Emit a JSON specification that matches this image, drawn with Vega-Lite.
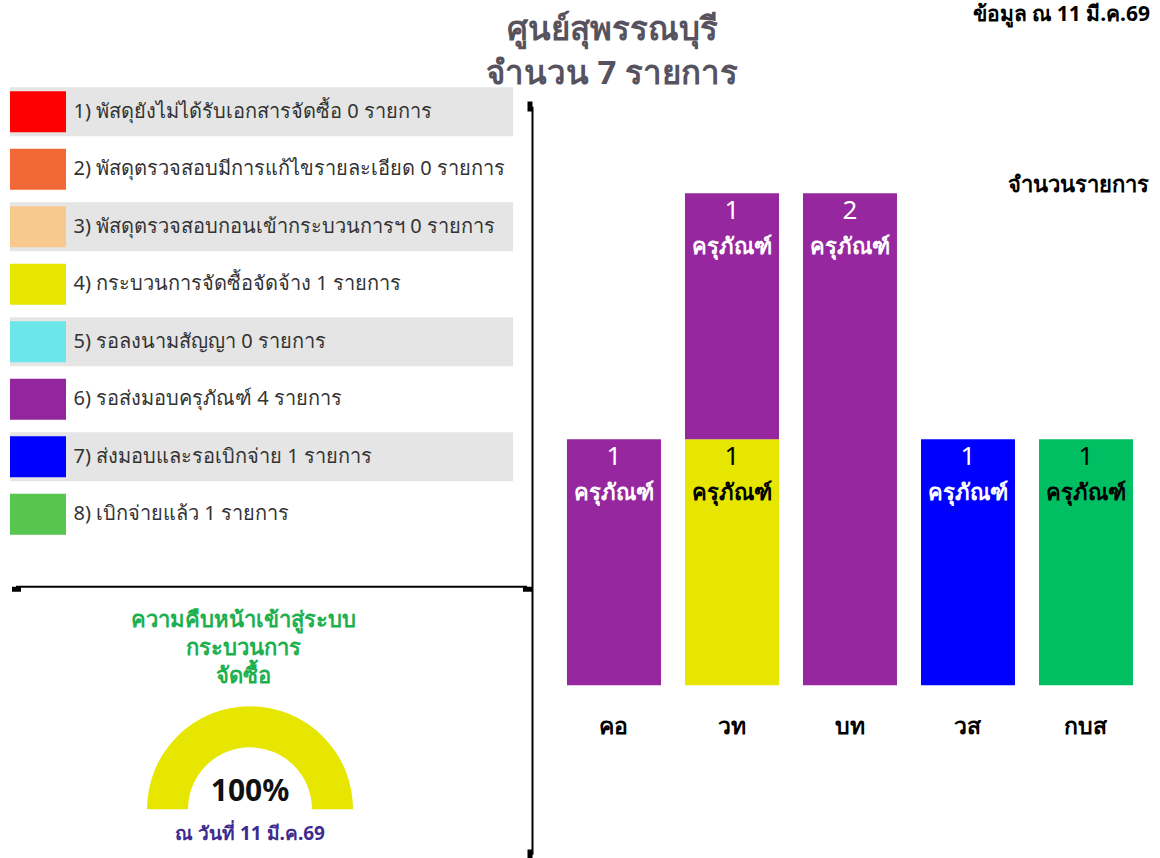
{
  "$schema": "https://vega.github.io/schema/vega-lite/v6.json",
  "padding": {"left": 10, "top": 4, "right": 0, "bottom": 0},
  "background": "white",
  "config": {"view": {"stroke": null}, "font": "Noto Sans"},
  "datasets": {
    "legend": [
      {"n": 1, "label": "1) พัสดุยังไม่ได้รับเอกสารจัดซื้อ 0 รายการ", "count": 0},
      {"n": 2, "label": "2) พัสดุตรวจสอบมีการแก้ไขรายละเอียด 0 รายการ", "count": 0},
      {"n": 3, "label": "3) พัสดุตรวจสอบกอนเข้ากระบวนการฯ 0 รายการ", "count": 0},
      {"n": 4, "label": "4) กระบวนการจัดซื้อจัดจ้าง 1 รายการ", "count": 1},
      {"n": 5, "label": "5) รอลงนามสัญญา 0 รายการ", "count": 0},
      {"n": 6, "label": "6) รอส่งมอบครุภัณฑ์ 4 รายการ", "count": 4},
      {"n": 7, "label": "7) ส่งมอบและรอเบิกจ่าย 1 รายการ", "count": 1},
      {"n": 8, "label": "8) เบิกจ่ายแล้ว 1 รายการ", "count": 1}
    ],
    "bars": [
      {"district": "คอ", "status": 6, "count": 1, "kind": "ครุภัณฑ์"},
      {"district": "วท", "status": 4, "count": 1, "kind": "ครุภัณฑ์"},
      {"district": "วท", "status": 6, "count": 1, "kind": "ครุภัณฑ์"},
      {"district": "บท", "status": 6, "count": 2, "kind": "ครุภัณฑ์"},
      {"district": "วส", "status": 7, "count": 1, "kind": "ครุภัณฑ์"},
      {"district": "กบส", "status": 8, "count": 1, "kind": "ครุภัณฑ์"}
    ],
    "gauge": [{"progress": 1}]
  },
  "title": {"text": ["ศูนย์สุพรรณบุรี", "จำนวน 7 รายการ"], "fontSize": 33, "fontWeight": "bold", "color": "#57535e", "lineHeight": 44, "anchor": "middle", "dx": 31, "offset": -87},
  "columns": 2,
  "spacing": {"row": 218.25, "column": 19},
  "bounds": "flush",
  "align": "each",
  "concat": [
    {
      "width": 503,
      "height": 460,
      "resolve": {"scale": {"x": "independent", "y": "independent"}},
      "layer": [
        {
          "data": {"name": "legend"},
          "mark": {"type": "bar"},
          "encoding": {
            "y": {"field": "label", "type": "nominal", "sort": {"field": "n", "op": "min"}, "scale": {"paddingInner": 0.15, "paddingOuter": 0.075},
              "axis": {"orient": "left", "title": null, "domain": false, "ticks": false, "labelAlign": "left", "labelPadding": -63, "labelFontSize": 20, "labelColor": "#333333", "labelLimit": 600, "zindex": 1}},
            "color": {"condition": {"test": "datum.n % 2 == 1", "value": "#e5e5e5"}, "value": "#ffffff"}
          }
        },
        {
          "data": {"name": "legend"},
          "mark": {"type": "rect"},
          "encoding": {
            "x": {"datum": "swatch", "type": "nominal", "scale": {"type": "band", "range": [0, 56], "paddingInner": 0, "paddingOuter": 0}, "axis": null},
            "y": {"field": "label", "type": "nominal", "sort": {"field": "n", "op": "min"}, "scale": {"paddingInner": 0.287, "paddingOuter": 0.1435}, "axis": null},
            "fill": {"field": "n", "type": "nominal", "scale": {"domain": [1, 2, 3, 4, 5, 6, 7, 8], "range": ["#ff0000", "#f26836", "#f8c98e", "#e6e600", "#6ce6e8", "#93269e", "#0000ff", "#56c64f"]}, "legend": null}
          }
        },
        {
          "data": {"values": []},
          "mark": "point",
          "encoding": {
            "x": {"field": "v", "type": "quantitative", "scale": {"domain": [0, 1], "range": [5.5, 516.5]},
              "axis": {"orient": "bottom", "offset": 43.25, "title": null, "labels": false, "grid": false, "values": [0, 1], "domainColor": "#000000", "domainWidth": 2, "tickColor": "#000000", "tickWidth": 9, "tickSize": 5}}
          }
        }
      ]
    },
    {
      "width": 620,
      "height": 460,
      "data": {"name": "bars"},
      "transform": [{"stack": "count", "groupby": ["district"], "sort": [{"field": "status"}], "as": ["y0", "y1"]}],
      "title": {"text": "ข้อมูล ณ 11 มี.ค.69", "anchor": "end", "fontSize": 21, "fontWeight": "bold", "color": "#000000", "offset": 58, "dx": -2},
      "encoding": {
        "x": {"field": "district", "type": "nominal", "sort": ["คอ", "วท", "บท", "วส", "กบส"], "scale": {"paddingInner": 0.2034, "paddingOuter": 0.2288, "align": 0.648},
          "axis": {"orient": "bottom", "title": null, "domain": false, "ticks": false, "labelAngle": 0, "labelFontSize": 23, "labelFontWeight": "bold", "labelColor": "#000000", "offset": 172.25, "labelPadding": 0}},
        "y": {"field": "y1", "type": "quantitative", "scale": {"domain": [-0.687, 2.3537], "range": [771.25, 23.25], "nice": false, "zero": false},
          "axis": {"orient": "left", "title": "จำนวนรายการ", "titleAngle": 0, "titleAlign": "right", "titleBaseline": "middle", "titleX": 616, "titleY": 101, "titleFontSize": 22, "titleFontWeight": "bold", "titleColor": "#000000",
            "labels": false, "grid": false, "domain": true, "domainColor": "#000000", "domainWidth": 2, "ticks": true, "values": [-0.687, 2.3537], "tickColor": "#000000", "tickSize": 5, "tickWidth": 10}}
      },
      "layer": [
        {"mark": {"type": "bar"}, "encoding": {"y2": {"field": "y0"}, "color": {"field": "status", "type": "nominal", "scale": {"domain": [4, 6, 7, 8], "range": ["#e6e600", "#96279f", "#0000ff", "#00bf63"]}, "legend": null}}},
        {"mark": {"type": "text", "baseline": "middle", "dy": 18, "fontSize": 26}, "encoding": {"text": {"field": "count", "type": "quantitative"}, "color": {"condition": {"test": "datum.status == 4 || datum.status == 8", "value": "#000000"}, "value": "#ffffff"}}},
        {"mark": {"type": "text", "baseline": "middle", "dy": 54, "fontSize": 22, "fontWeight": "bold"}, "encoding": {"text": {"field": "kind"}, "color": {"condition": {"test": "datum.status == 4 || datum.status == 8", "value": "#000000"}, "value": "#ffffff"}}}
      ]
    },
    {
      "width": 480,
      "height": 96,
      "data": {"name": "gauge"},
      "title": {"text": ["ความคืบหน้าเข้าสู่ระบบ", "กระบวนการ", "จัดซื้อ"], "fontSize": 22, "fontWeight": "bold", "color": "#1db04f", "lineHeight": 28, "anchor": "middle", "dx": -7, "offset": 18},
      "layer": [
        {"mark": {"type": "arc", "radius": 103, "radius2": 62, "color": "#e6e600"}, "encoding": {"theta": {"field": "progress", "type": "quantitative", "scale": {"domain": [0, 1], "range": [-1.5708, 1.5708]}}}},
        {"mark": {"type": "text", "fontSize": 30, "fontWeight": "bold", "color": "#111111", "dy": -17, "baseline": "middle"}, "encoding": {"text": {"field": "progress", "type": "quantitative", "format": ".0%"}}},
        {"mark": {"type": "text", "fontSize": 19, "fontWeight": "bold", "color": "#3d2b8f", "dy": 25, "baseline": "middle"}, "encoding": {"text": {"value": "ณ วันที่ 11 มี.ค.69"}}}
      ]
    }
  ]
}
